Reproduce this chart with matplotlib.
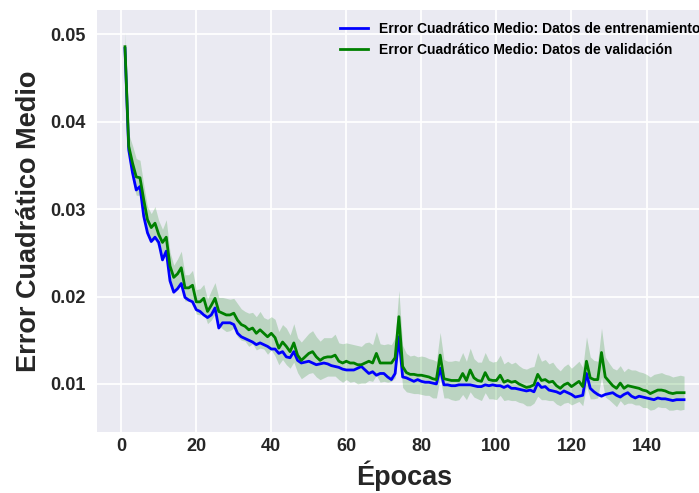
import matplotlib
matplotlib.use("Agg")
import matplotlib.pyplot as plt
import numpy as np

epochs = list(range(1, 151))

train_mse = [
    0.0484, 0.0368, 0.0342, 0.0322, 0.0326, 0.0292, 0.0273, 0.0263, 0.0268, 0.0262,
    0.0242, 0.0252, 0.0218, 0.0205, 0.0209, 0.0215, 0.0199, 0.0196, 0.0194, 0.0185,
    0.0183, 0.0179, 0.0176, 0.0179, 0.0187, 0.0164, 0.0170, 0.0170, 0.0170, 0.0168,
    0.0158, 0.0154, 0.0152, 0.0150, 0.0148, 0.0145, 0.0147, 0.0145, 0.0143, 0.0140,
    0.0140, 0.0135, 0.0137, 0.0131, 0.0130, 0.0137, 0.0127, 0.0124, 0.0125, 0.0126,
    0.0124, 0.0122, 0.0123, 0.0124, 0.0123, 0.0121, 0.0120, 0.0119, 0.0117, 0.0116,
    0.0116, 0.0116, 0.0118, 0.0120, 0.0116, 0.0112, 0.0114, 0.0110, 0.0112, 0.0112,
    0.0108, 0.0105, 0.0112, 0.0154, 0.0108, 0.0107, 0.0105, 0.0103, 0.0105, 0.0103,
    0.0102, 0.0102, 0.0101, 0.0100, 0.0118, 0.0099, 0.0099, 0.0098, 0.0098, 0.0099,
    0.0099, 0.0099, 0.0099, 0.0098, 0.0097, 0.0097, 0.0099, 0.0098, 0.0099, 0.0098,
    0.0098, 0.0096, 0.0098, 0.0095, 0.0095, 0.0094, 0.0093, 0.0092, 0.0093, 0.0091,
    0.0101, 0.0096, 0.0097, 0.0093, 0.0092, 0.0091, 0.0089, 0.0092, 0.0090, 0.0088,
    0.0085, 0.0086, 0.0087, 0.0112, 0.0095, 0.0091, 0.0088, 0.0086, 0.0088, 0.0089,
    0.0090, 0.0087, 0.0085, 0.0088, 0.0090, 0.0086, 0.0084, 0.0086, 0.0085, 0.0084,
    0.0083, 0.0082, 0.0084, 0.0083, 0.0083, 0.0082, 0.0081, 0.0082, 0.0082, 0.0082,
]

val_mse = [
    0.0486, 0.0372, 0.0353, 0.0337, 0.0336, 0.0311, 0.0288, 0.0279, 0.0284, 0.0271,
    0.0262, 0.0268, 0.0235, 0.0222, 0.0226, 0.0233, 0.0210, 0.0210, 0.0213, 0.0194,
    0.0194, 0.0198, 0.0183, 0.0190, 0.0198, 0.0183, 0.0181, 0.0179, 0.0179, 0.0181,
    0.0173, 0.0168, 0.0166, 0.0162, 0.0164, 0.0158, 0.0162, 0.0158, 0.0154, 0.0158,
    0.0153, 0.0141, 0.0148, 0.0143, 0.0137, 0.0147, 0.0133, 0.0127, 0.0131, 0.0135,
    0.0137, 0.0131, 0.0127, 0.0130, 0.0131, 0.0131, 0.0133, 0.0126, 0.0124, 0.0126,
    0.0124, 0.0124, 0.0122, 0.0122, 0.0124, 0.0126, 0.0124, 0.0135, 0.0124, 0.0124,
    0.0124, 0.0124, 0.0130, 0.0177, 0.0120, 0.0113, 0.0111, 0.0111, 0.0110, 0.0110,
    0.0109, 0.0108, 0.0106, 0.0105, 0.0133, 0.0106, 0.0105, 0.0104, 0.0104, 0.0104,
    0.0112, 0.0104, 0.0116, 0.0107, 0.0104, 0.0103, 0.0113, 0.0105, 0.0104, 0.0104,
    0.0110, 0.0102, 0.0104, 0.0102, 0.0103, 0.0100, 0.0098, 0.0096, 0.0097, 0.0099,
    0.0111, 0.0104, 0.0105, 0.0102, 0.0103, 0.0098, 0.0095, 0.0099, 0.0101, 0.0097,
    0.0100, 0.0103, 0.0097, 0.0126, 0.0107, 0.0105, 0.0105, 0.0136, 0.0108, 0.0103,
    0.0098, 0.0095, 0.0101, 0.0095, 0.0098, 0.0097, 0.0096, 0.0095, 0.0093, 0.0092,
    0.0089, 0.0091, 0.0093, 0.0093, 0.0092, 0.0090, 0.0089, 0.0090, 0.0090, 0.0090,
]

# desviacion estandar de la validacion entre corridas
val_std = [
    0.0017, 0.0014, 0.0020, 0.0021, 0.0020, 0.0017, 0.0015, 0.0016, 0.0019, 0.0016,
    0.0015, 0.0020, 0.0016, 0.0014, 0.0017, 0.0019, 0.0015, 0.0015, 0.0017, 0.0014,
    0.0015, 0.0016, 0.0014, 0.0017, 0.0018, 0.0016, 0.0018, 0.0019, 0.0018, 0.0017,
    0.0019, 0.0018, 0.0017, 0.0019, 0.0018, 0.0019, 0.0021, 0.0018, 0.0020, 0.0019,
    0.0021, 0.0019, 0.0020, 0.0021, 0.0019, 0.0022, 0.0020, 0.0021, 0.0022, 0.0023,
    0.0024, 0.0023, 0.0022, 0.0023, 0.0022, 0.0022, 0.0024, 0.0021, 0.0022, 0.0021,
    0.0022, 0.0021, 0.0022, 0.0021, 0.0023, 0.0022, 0.0021, 0.0025, 0.0022, 0.0021,
    0.0022, 0.0021, 0.0023, 0.0030, 0.0024, 0.0022, 0.0021, 0.0022, 0.0021, 0.0022,
    0.0022, 0.0021, 0.0022, 0.0021, 0.0026, 0.0022, 0.0021, 0.0022, 0.0023, 0.0022,
    0.0024, 0.0022, 0.0025, 0.0022, 0.0021, 0.0022, 0.0023, 0.0022, 0.0021, 0.0022,
    0.0023, 0.0021, 0.0022, 0.0021, 0.0022, 0.0021, 0.0020, 0.0021, 0.0022, 0.0021,
    0.0025, 0.0022, 0.0023, 0.0021, 0.0022, 0.0021, 0.0020, 0.0021, 0.0022, 0.0021,
    0.0022, 0.0023, 0.0022, 0.0028, 0.0024, 0.0022, 0.0021, 0.0028, 0.0023, 0.0021,
    0.0020, 0.0021, 0.0020, 0.0019, 0.0020, 0.0019, 0.0020, 0.0019, 0.0020, 0.0019,
    0.0019, 0.0020, 0.0019, 0.0020, 0.0019, 0.0020, 0.0019, 0.0019, 0.0020, 0.0019,
]

plt.rcParams["font.family"] = ["Liberation Sans", "DejaVu Sans"]
plt.rcParams["font.weight"] = "bold"

val = np.array(val_mse)
std = np.array(val_std)

fig = plt.figure(figsize=(6.99, 4.93), dpi=100)
ax = fig.add_axes([0.1388, 0.1237, 0.8798, 0.856])
ax.set_facecolor("#EAEAF2")
for s in ax.spines.values():
    s.set_visible(False)
ax.grid(True, color="white", linewidth=1.3)
ax.set_axisbelow(True)

ax.plot(epochs, train_mse, color="blue", linewidth=2,
        label="Error Cuadrático Medio: Datos de entrenamiento")
ax.plot(epochs, val_mse, color="green", linewidth=2,
        label="Error Cuadrático Medio: Datos de validación")
ax.fill_between(epochs, val - std, val + std, color="green", alpha=0.2, linewidth=0)

ax.set_xlim(-6.45, 157.45)
ax.set_ylim(0.0045, 0.0528)
ax.set_xticks([0, 20, 40, 60, 80, 100, 120, 140])
ax.set_yticks([0.01, 0.02, 0.03, 0.04, 0.05])
ax.set_yticklabels(["0.01", "0.02", "0.03", "0.04", "0.05"])
ax.tick_params(axis="both", length=0, labelsize=13, labelcolor="#262626")
ax.tick_params(axis="y", pad=8)
ax.tick_params(axis="x", pad=4)

ax.set_xlabel("Épocas", fontsize=19.5, fontweight="bold", color="#262626", labelpad=4)
ax.set_ylabel("Error Cuadrático Medio", fontsize=19.5, fontweight="bold",
              color="#262626", labelpad=6)

fig.legend(loc="upper left", bbox_to_anchor=(0.479, 0.967), frameon=False,
           prop={"size": 10, "weight": "bold"}, borderaxespad=0)

fig.savefig("out.png", dpi=100)
